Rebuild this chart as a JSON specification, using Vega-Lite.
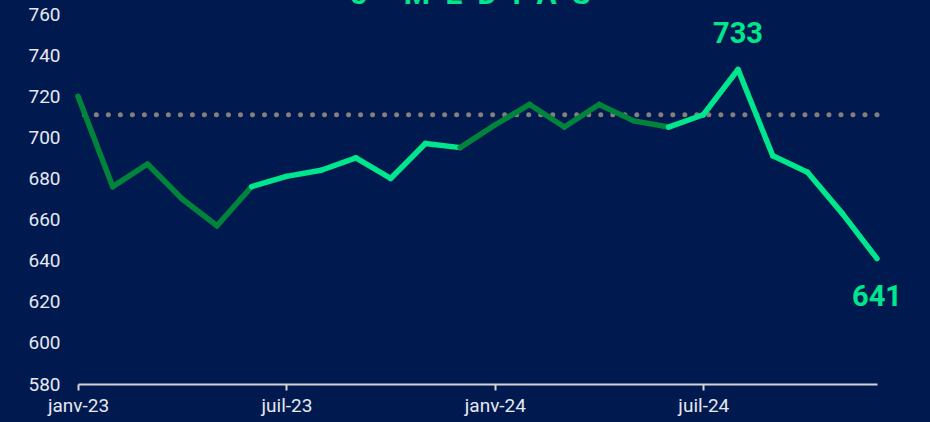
{
  "$schema": "https://vega.github.io/schema/vega-lite/v6.json",
  "autosize": "none",
  "width": 799,
  "height": 370,
  "padding": {"left": 78, "top": 14, "right": 53, "bottom": 38},
  "background": "#001a50",
  "config": {
    "view": {"stroke": null},
    "font": "Roboto"
  },
  "data": {
    "values": [
      {"mois": "janv-23", "v": 720, "phase": "sombre"},
      {"mois": "févr-23", "v": 676, "phase": "sombre"},
      {"mois": "mars-23", "v": 687, "phase": "sombre"},
      {"mois": "avr-23", "v": 670, "phase": "sombre"},
      {"mois": "mai-23", "v": 657, "phase": "sombre"},
      {"mois": "juin-23", "v": 676, "phase": "clair"},
      {"mois": "juil-23", "v": 681, "phase": "clair"},
      {"mois": "août-23", "v": 684, "phase": "clair"},
      {"mois": "sept-23", "v": 690, "phase": "clair"},
      {"mois": "oct-23", "v": 680, "phase": "clair"},
      {"mois": "nov-23", "v": 697, "phase": "clair"},
      {"mois": "déc-23", "v": 695, "phase": "sombre"},
      {"mois": "janv-24", "v": 706, "phase": "sombre"},
      {"mois": "févr-24", "v": 716, "phase": "sombre"},
      {"mois": "mars-24", "v": 705, "phase": "sombre"},
      {"mois": "avr-24", "v": 716, "phase": "sombre"},
      {"mois": "mai-24", "v": 708, "phase": "sombre"},
      {"mois": "juin-24", "v": 705, "phase": "clair"},
      {"mois": "juil-24", "v": 711, "phase": "clair"},
      {"mois": "août-24", "v": 733, "phase": "clair"},
      {"mois": "sept-24", "v": 691, "phase": "clair"},
      {"mois": "oct-24", "v": 683, "phase": "clair"},
      {"mois": "nov-24", "v": 663, "phase": "clair"},
      {"mois": "déc-24", "v": 641, "phase": "clair"}
    ]
  },
  "encoding": {
    "x": {
      "field": "mois",
      "type": "ordinal",
      "sort": null,
      "scale": {"type": "point", "padding": 0},
      "axis": {
        "title": null,
        "values": ["janv-23", "juil-23", "janv-24", "juil-24"],
        "labelAngle": 0,
        "labelFontSize": 19,
        "labelColor": "#e6e8f0",
        "labelPadding": 6,
        "domainColor": "#d4d4d8",
        "domainWidth": 2,
        "tickColor": "#d4d4d8",
        "tickWidth": 2,
        "tickSize": 6,
        "grid": false
      }
    },
    "y": {
      "field": "v",
      "type": "quantitative",
      "scale": {"domain": [580, 760], "nice": false, "zero": false},
      "axis": {
        "title": null,
        "values": [580, 600, 620, 640, 660, 680, 700, 720, 740, 760],
        "grid": false,
        "domain": false,
        "ticks": false,
        "labelFontSize": 19,
        "labelColor": "#e6e8f0",
        "labelPadding": 18
      }
    }
  },
  "layer": [
    {
      "data": {"values": [{"reference": 711}]},
      "mark": {"type": "rule", "strokeDash": [0.01, 12], "strokeCap": "round", "strokeWidth": 5, "color": "#857f7b"},
      "encoding": {
        "x": null,
        "y": {"field": "reference", "type": "quantitative"}
      }
    },
    {
      "transform": [
        {"window": [
          {"op": "lead", "field": "mois", "as": "mois2"},
          {"op": "lead", "field": "v", "as": "v2"}
        ]},
        {"filter": "datum.mois2 != null"}
      ],
      "mark": {"type": "rule", "strokeWidth": 5.5, "strokeCap": "round"},
      "encoding": {
        "x2": {"field": "mois2"},
        "y2": {"field": "v2"},
        "color": {
          "field": "phase",
          "type": "nominal",
          "scale": {"domain": ["sombre", "clair"], "range": ["#00843c", "#00e68c"]},
          "legend": null
        }
      }
    },
    {
      "transform": [{"filter": "datum.mois == 'août-24'"}],
      "mark": {"type": "text", "fontSize": 29, "fontWeight": "bold", "color": "#00e68c", "baseline": "middle", "dy": -36},
      "encoding": {"text": {"field": "v"}}
    },
    {
      "transform": [{"filter": "datum.mois == 'déc-24'"}],
      "mark": {"type": "text", "fontSize": 29, "fontWeight": "bold", "color": "#00e68c", "baseline": "middle", "dy": 38},
      "encoding": {"text": {"field": "v"}}
    },
    {
      "data": {"values": [{"titre": "5\u2003\u2009M\u2002É\u2002D\u2002I\u2002A\u2002S", "pos": "déc-23", "niveau": 765}]},
      "mark": {"type": "text", "fontSize": 30, "fontWeight": "bold", "color": "#00e68c", "baseline": "alphabetic", "align": "center", "dx": 10, "clip": false},
      "encoding": {
        "x": {"field": "pos", "type": "ordinal"},
        "y": {"field": "niveau", "type": "quantitative"},
        "text": {"field": "titre"}
      }
    }
  ]
}
